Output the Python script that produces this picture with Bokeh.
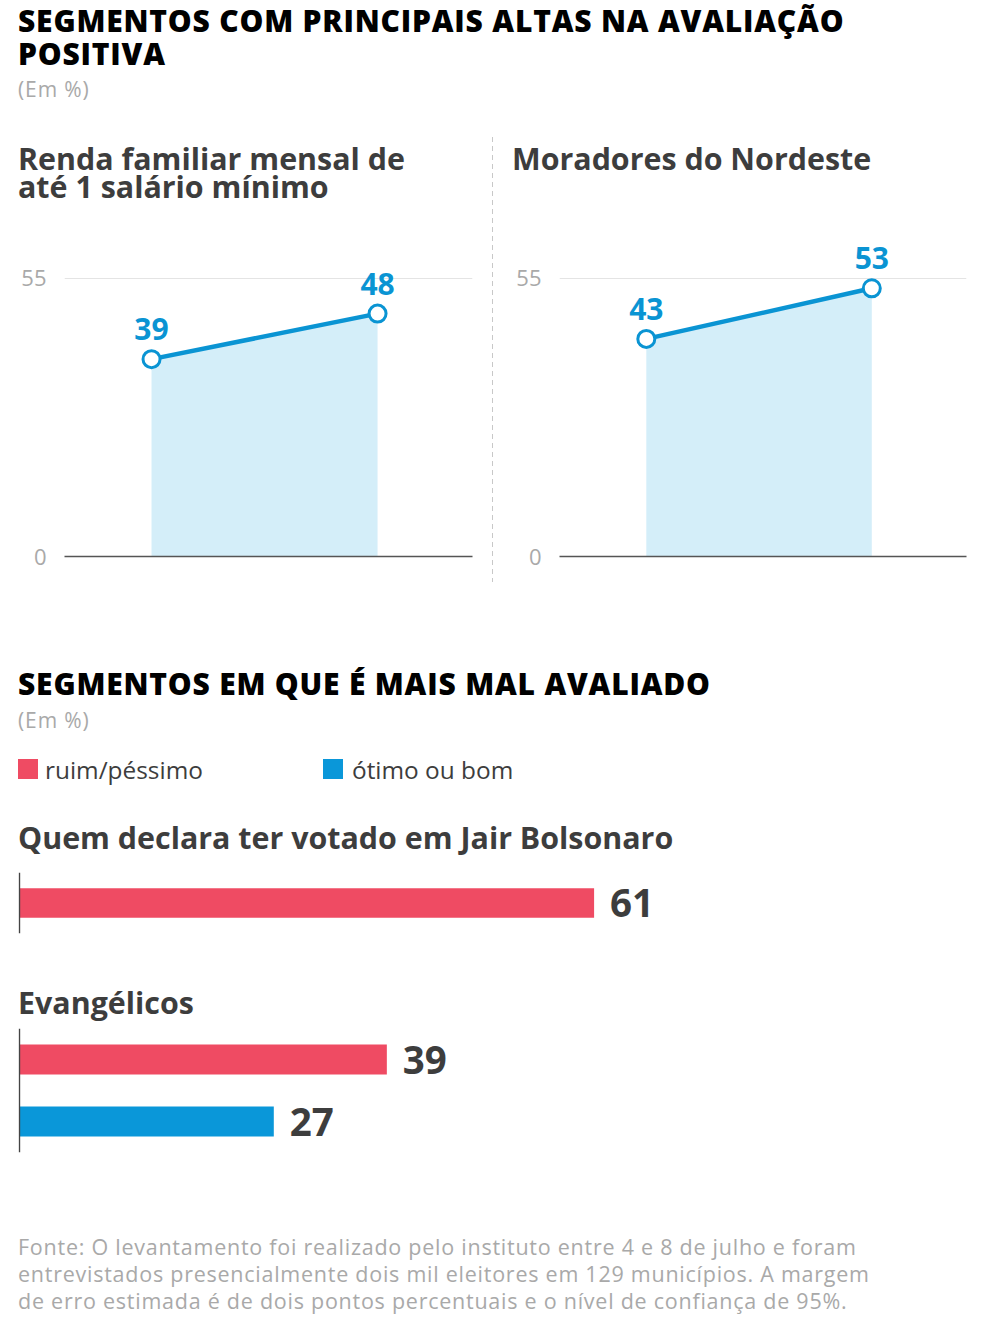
from bokeh.plotting import figure
from bokeh.models import Div, Range1d, FixedTicker, Span
from bokeh.layouts import column, row
from bokeh.core.properties import value
from bokeh.embed import file_html
from bokeh.resources import INLINE

# ---------------- data ----------------
title_top = ["SEGMENTOS COM PRINCIPAIS ALTAS NA AVALIAÇÃO", "POSITIVA"]
unit_label = "(Em %)"
panel_titles = [["Renda familiar mensal de", "até 1 salário mínimo"], ["Moradores do Nordeste"]]
panel_values = [[39, 48], [43, 53]]
y_ticks = [0, 55]

title_bottom = "SEGMENTOS EM QUE É MAIS MAL AVALIADO"
legend_labels = ["ruim/péssimo", "ótimo ou bom"]
bar_groups = ["Quem declara ter votado em Jair Bolsonaro", "Evangélicos"]
ruim_pessimo = [61, 39]
otimo_bom = [None, 27]

source_lines = [
    "Fonte: O levantamento foi realizado pelo instituto entre 4 e 8 de julho e foram",
    "entrevistados presencialmente dois mil eleitores em 129 municípios. A margem",
    "de erro estimada é de dois pontos percentuais e o nível de confiança de 95%.",
]

# ---------------- style ----------------
RED = "#ef4b63"
BLUE = "#0a97d9"
LINE_BLUE = "#0a94d3"
AREA = "#d4eef9"
DARK = "#3d3d3d"
GRAY = "#a9a9a9"
FONT = "'Open Sans', sans-serif"
legend_colors = [RED, BLUE]


def txt(top, html, size, weight=400, color=DARK, lh=None, left=10, extra=""):
    lh = lh if lh is not None else size
    return (f'<div style="position:absolute;top:{top}px;left:{left}px;font-family:{FONT};'
            f'font-size:{size}px;font-weight:{weight};color:{color};line-height:{lh}px;'
            f'white-space:nowrap;{extra}">{html}</div>')


def box(width, height, inner):
    return Div(width=width, height=height, margin=0,
               text=f'<div style="position:relative;width:{width}px;height:{height}px">{inner}</div>')


TITLE_EXTRA = "letter-spacing:0.8px"
UNIT_EXTRA = "letter-spacing:0.9px"

# header
header = box(968, 125,
             txt(-4, "<br>".join(title_top), 30, 800, "#000", 33, extra=TITLE_EXTRA) +
             txt(68.5, unit_label, 21, 400, GRAY, 24, extra=UNIT_EXTRA))

# line panels
panels = []
geom = [(484, 56, 20, 10), (483, 66, 10, 19)]
for (w, bl, br, pl), ttl, vals in zip(geom, panel_titles, panel_values):
    sub = box(w, 100, txt(12, "<br>".join(ttl), 30.4, 700, DARK, 28, left=pl))
    xs = list(range(len(vals)))
    p = figure(width=w, height=367, x_range=Range1d(-0.385, 1.42), y_range=Range1d(0, 63.24),
               toolbar_location=None, output_backend="svg",
               min_border_left=bl, min_border_right=br, min_border_top=3, min_border_bottom=44)
    p.outline_line_color = None
    p.varea(x=xs, y1=[0] * len(vals), y2=vals, fill_color=AREA)
    p.line(xs, vals, line_color=LINE_BLUE, line_width=4.5)
    p.scatter(xs, vals, size=17, fill_color="white", line_color=LINE_BLUE, line_width=3)
    p.text(xs, vals, text=[str(v) for v in vals], y_offset=-30, text_align="center",
           text_baseline="alphabetic", text_font=value("Open Sans"), text_font_style="bold",
           text_font_size="30px", text_color=LINE_BLUE)
    p.yaxis.ticker = FixedTicker(ticks=y_ticks)
    p.yaxis.axis_line_color = None
    p.yaxis.major_tick_line_color = None
    p.yaxis.minor_tick_line_color = None
    p.yaxis.major_tick_out = 0
    p.yaxis.minor_tick_out = 0
    p.yaxis.major_label_text_font = "Open Sans"
    p.yaxis.major_label_text_font_size = "22px"
    p.yaxis.major_label_text_color = GRAY
    p.yaxis.major_label_standoff = 18
    p.xaxis.ticker = FixedTicker(ticks=[])
    p.xaxis.axis_line_color = "#555555"
    p.xaxis.axis_line_width = 1.5
    p.xaxis.major_tick_line_color = None
    p.xaxis.minor_tick_line_color = None
    p.xgrid.visible = False
    p.ygrid.ticker = FixedTicker(ticks=[y_ticks[-1]])
    p.ygrid.grid_line_color = "#e4e4e4"
    panels.append(column(sub, p, spacing=0))

sep = Div(width=1, height=467, margin=0,
          text='<div style="margin-top:4px;width:1px;height:445px;background:repeating-linear-gradient('
               'to bottom,#c8c8c8 0px,#c8c8c8 5px,rgba(0,0,0,0) 5px,rgba(0,0,0,0) 9px)"></div>')

# bottom section header + legend
legend_html = ""
for i, (lab, col) in enumerate(zip(legend_labels, legend_colors)):
    wid = "width:305px;" if i == 0 else ""
    legend_html += (f'<span style="display:inline-block;{wid}">'
                    f'<span style="display:inline-block;width:20px;height:20px;background:{col};'
                    f'margin-right:{7 if i == 0 else 9}px"></span>{lab}</span>')

sec2 = box(968, 266,
           txt(67, title_bottom, 30, 800, "#000", 33, extra=TITLE_EXTRA) +
           txt(107.5, unit_label, 21, 400, GRAY, 24, extra=UNIT_EXTRA) +
           txt(154.5, legend_html, 24.4, 400, DARK, 30) +
           txt(223, bar_groups[0], 30.4, 700, DARK, 30))


def bar_fig(vals_cols):
    n = len(vals_cols)
    frame_h = 63 * n - 2
    ys = [n - 0.5 - k for k in range(n)]
    vals = [v for v, _ in vals_cols]
    cols = [c for _, c in vals_cols]
    p = figure(width=968, height=frame_h + 12, x_range=Range1d(-0.1, 100), y_range=Range1d(0, n),
               toolbar_location=None, output_backend="svg",
               min_border_left=10, min_border_right=15, min_border_top=6, min_border_bottom=6)
    p.axis.visible = False
    p.grid.visible = False
    p.outline_line_color = None
    p.hbar(y=ys, left=0, right=vals, height=0.48, fill_color=cols, line_color=None)
    p.text(vals, ys, text=[str(v) for v in vals], x_offset=16, y_offset=0, text_align="left",
           text_baseline="alphabetic", text_font=value("Open Sans"), text_font_style="bold",
           text_font_size="38.5px", text_color=DARK)
    p.add_layout(Span(location=0, dimension="height", line_color="#444444", line_width=1.5))
    return p


bars = []
for g in range(len(bar_groups)):
    vc = [(ruim_pessimo[g], RED)]
    if otimo_bom[g] is not None:
        vc.append((otimo_bom[g], BLUE))
    bars.append(bar_fig(vc))

evang = box(968, 83, txt(49, bar_groups[1], 30.4, 700, DARK, 30))
footer = box(968, 167, txt(75, "<br>".join(source_lines), 21.5, 400, GRAY, 27,
                           extra="letter-spacing:0.75px"))

layout = column(header,
                row(panels[0], sep, panels[1], spacing=0),
                sec2, bars[0], evang, bars[1], footer, spacing=0, margin=(8, 0, 0, 8))

open("out.html", "w").write(file_html(layout, INLINE))
